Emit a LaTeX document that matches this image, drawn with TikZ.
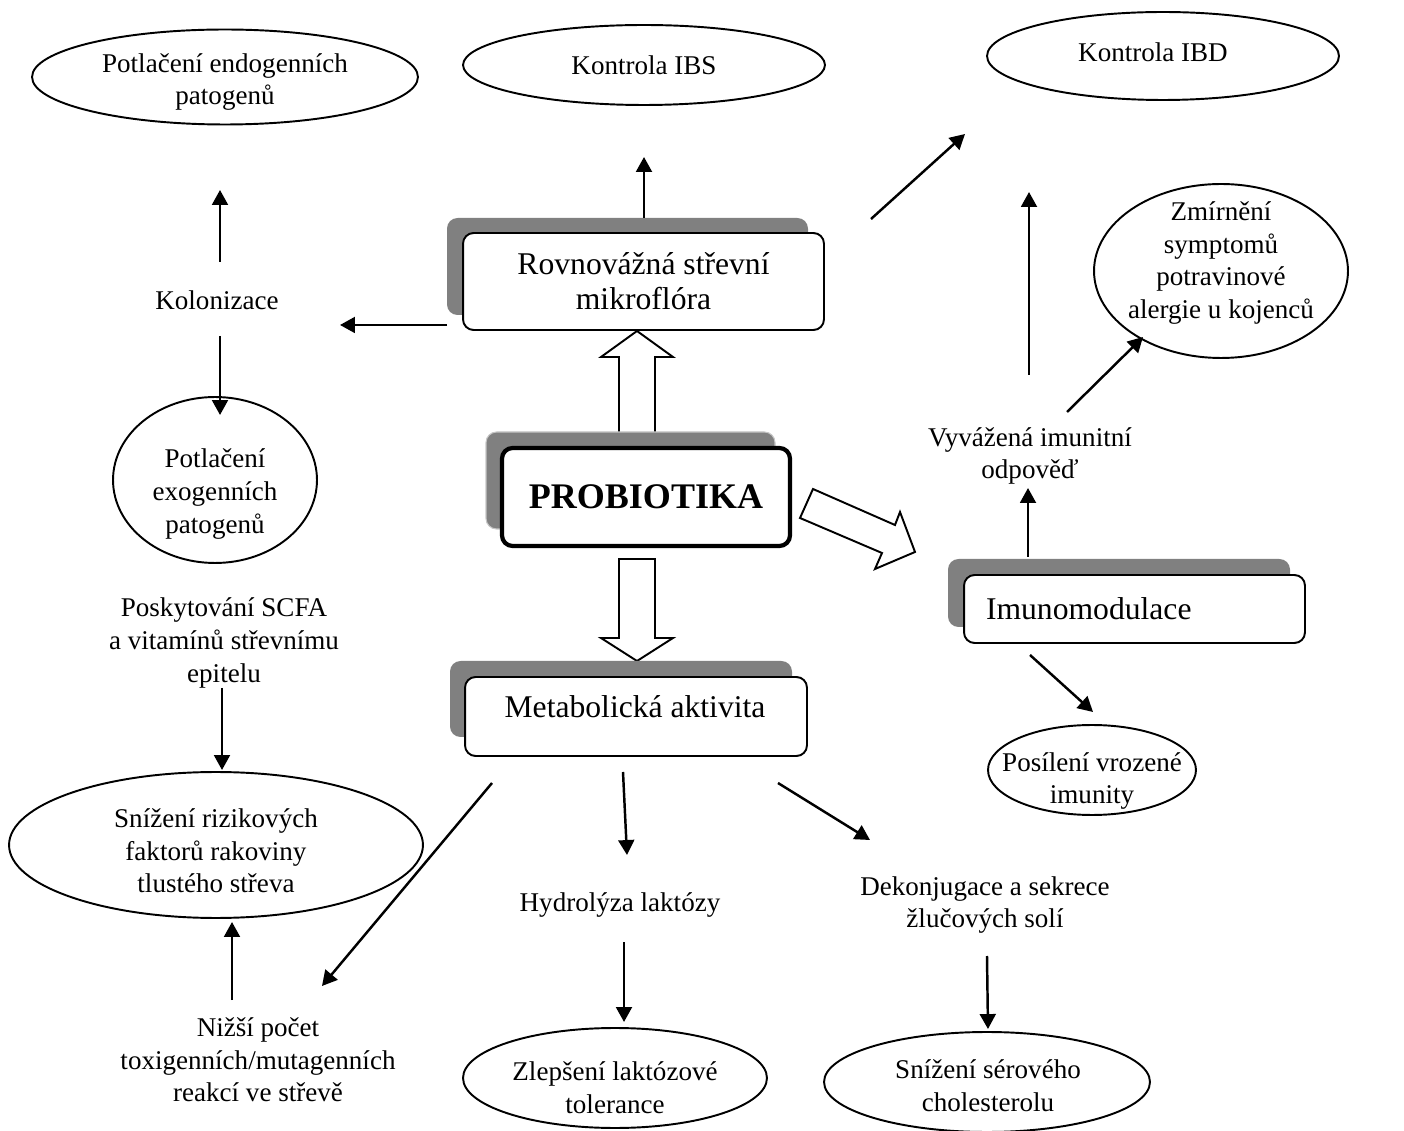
\documentclass[tikz,border=0pt]{standalone}
\usepackage{fontspec}
\setmainfont{Liberation Serif}
\usetikzlibrary{shapes.geometric,arrows.meta}
\definecolor{shadowgray}{RGB}{128,128,128}
\begin{document}
\begin{tikzpicture}[x=0.02cm,y=-0.02cm,
  arr/.style={line width=1.4pt,-{Triangle[length=8.5pt,width=9pt]}},
  oval/.style={draw,ellipse,line width=1.1pt,inner sep=0pt},
  lbl/.style={align=center,inner sep=0pt,font=\fontsize{15.4}{18.6}\selectfont},
  mainbox/.style={draw,fill=white,line width=1.1pt,rounded corners=6pt,inner sep=0pt,
    align=center,font=\fontsize{18}{20}\selectfont},
  blockarrow/.style={draw,fill=white,line width=1.1pt,line join=miter}
]
\useasboundingbox (0,0) rectangle (1404,1131);

% ---------- ellipses ----------
\node[oval,minimum width=7.72cm,minimum height=1.90cm] (endo) at (225,77) {};
\node[lbl] (endot) at (225,82) {Potlačení endogenních\\patogenů};
\node[oval,minimum width=7.24cm,minimum height=1.60cm] (ibs) at (644,65) {};
\node[lbl] (ibst) at (644,65) {Kontrola IBS};
\node[oval,minimum width=7.04cm,minimum height=1.76cm] (ibd) at (1163,56) {};
\node[lbl] (ibdt) at (1153,52) {Kontrola IBD};
\node[oval,minimum width=5.08cm,minimum height=3.48cm] (zmir) at (1221,271) {};
\node[lbl] (zmirt) at (1221,263) {Zmírnění\\symptomů\\potravinové\\alergie u kojenců};
\node[oval,minimum width=4.08cm,minimum height=3.32cm] (exo) at (215,480) {};
\node[lbl] (exot) at (215,494) {Potlačení\\exogenních\\patogenů};
\node[oval,minimum width=4.16cm,minimum height=1.80cm] (posil) at (1092,770) {};
\node[lbl] (posilt) at (1092,781) {Posílení vrozené\\imunity};
\node[oval,minimum width=8.28cm,minimum height=2.92cm] (rizik) at (216,845) {};
\node[lbl] (rizikt) at (216,851) {Snížení rizikových\\faktorů rakoviny\\tlustého střeva};
\node[oval,minimum width=6.08cm,minimum height=2.00cm] (zlep) at (615,1078) {};
\node[lbl] (zlept) at (615,1088) {Zlepšení laktózové\\tolerance};
\node[oval,minimum width=6.52cm,minimum height=2.00cm] (chol) at (987,1082) {};
\node[lbl] (cholt) at (988,1086) {Snížení sérového\\cholesterolu};

% ---------- plain labels ----------
\node[lbl] (kolon) at (217,300) {Kolonizace};
\node[lbl] (scfa) at (224,643) {Poskytování SCFA\\a vitamínů střevnímu\\epitelu};
\node[lbl] (vyvaz) at (1030,456) {Vyvážená imunitní\\odpověď};
\node[lbl] (hydro) at (620,905) {Hydrolýza laktózy};
\node[lbl] (dekon) at (985,905) {Dekonjugace a sekrece\\žlučových solí};
\node[lbl] (nizsi) at (258,1060) {Nižší počet\\toxigenních/mutagenních\\reakcí ve střevě};

% ---------- block arrows ----------
\draw[blockarrow] (619,432) -- (619,357) -- (601,357) -- (637,331) -- (673,357) -- (655,357) -- (655,432);
\draw[blockarrow] (619,559) -- (655,559) -- (655,638) -- (673,638) -- (637,661) -- (601,638) -- (619,638) -- cycle;
\draw[blockarrow] (813,489) -- (895,525) -- (900,512) -- (915,552) -- (875,569) -- (882,553) -- (800,518) -- cycle;

% ---------- boxes with shadows ----------
\fill[shadowgray,rounded corners=6pt] (447,218) rectangle (808,315);
\node[mainbox,minimum width=7.22cm,minimum height=1.94cm] (rovn) at (643.5,281.5) {Rovnovážná střevní\\mikroflóra};

\filldraw[shadowgray,draw=gray!45,line width=0.6pt,rounded corners=6pt] (486,432) rectangle (775,529);
\node[mainbox,line width=2.4pt,minimum width=5.76cm,minimum height=1.96cm,
  font=\fontsize{20.5}{22}\selectfont\bfseries] (probi) at (646,497) {PROBIOTIKA};

\fill[shadowgray,rounded corners=6pt] (948,559) rectangle (1290,627);
\node[mainbox,minimum width=6.82cm,minimum height=1.36cm,inner xsep=0.44cm,
  text width=5.94cm,align=left] (imuno) at (1134.5,609) {Imunomodulace};

\fill[shadowgray,rounded corners=6pt] (450,661) rectangle (792,737);
\node[mainbox,minimum width=6.84cm,minimum height=1.58cm] (metab) at (636,716.5) {};
\node[inner sep=0pt,font=\fontsize{18}{20}\selectfont] (metabt) at (635,707) {Metabolická aktivita};

% ---------- arrow end coordinates ----------
\coordinate (a1s) at (644,218);  \coordinate (a1e) at (644,157);
\coordinate (a2s) at (871,219);  \coordinate (a2e) at (965,134);
\coordinate (a3s) at (1029,375); \coordinate (a3e) at (1029,192);
\coordinate (a4s) at (1067,412); \coordinate (a4e) at (1143,337);
\coordinate (a5s) at (1028,557); \coordinate (a5e) at (1028,488);
\coordinate (a6s) at (1030,655); \coordinate (a6e) at (1093,712);
\coordinate (a7s) at (447,325);  \coordinate (a7e) at (340,325);
\coordinate (a8s) at (220,262);  \coordinate (a8e) at (220,190);
\coordinate (a9s) at (220,336);  \coordinate (a9e) at (220,415);
\coordinate (a10s) at (222,688); \coordinate (a10e) at (222,770);
\coordinate (a11s) at (232,1000);\coordinate (a11e) at (232,922);
\coordinate (a12s) at (492,783); \coordinate (a12e) at (322,986);
\coordinate (a13s) at (623,772); \coordinate (a13e) at (627,855);
\coordinate (a14s) at (778,783); \coordinate (a14e) at (870,840);
\coordinate (a15s) at (624,942); \coordinate (a15e) at (624,1022);
\coordinate (a16s) at (987,956); \coordinate (a16e) at (988,1029);

\foreach \i in {1,...,16} \draw[arr] (a\i s) -- (a\i e);
\end{tikzpicture}
\end{document}
